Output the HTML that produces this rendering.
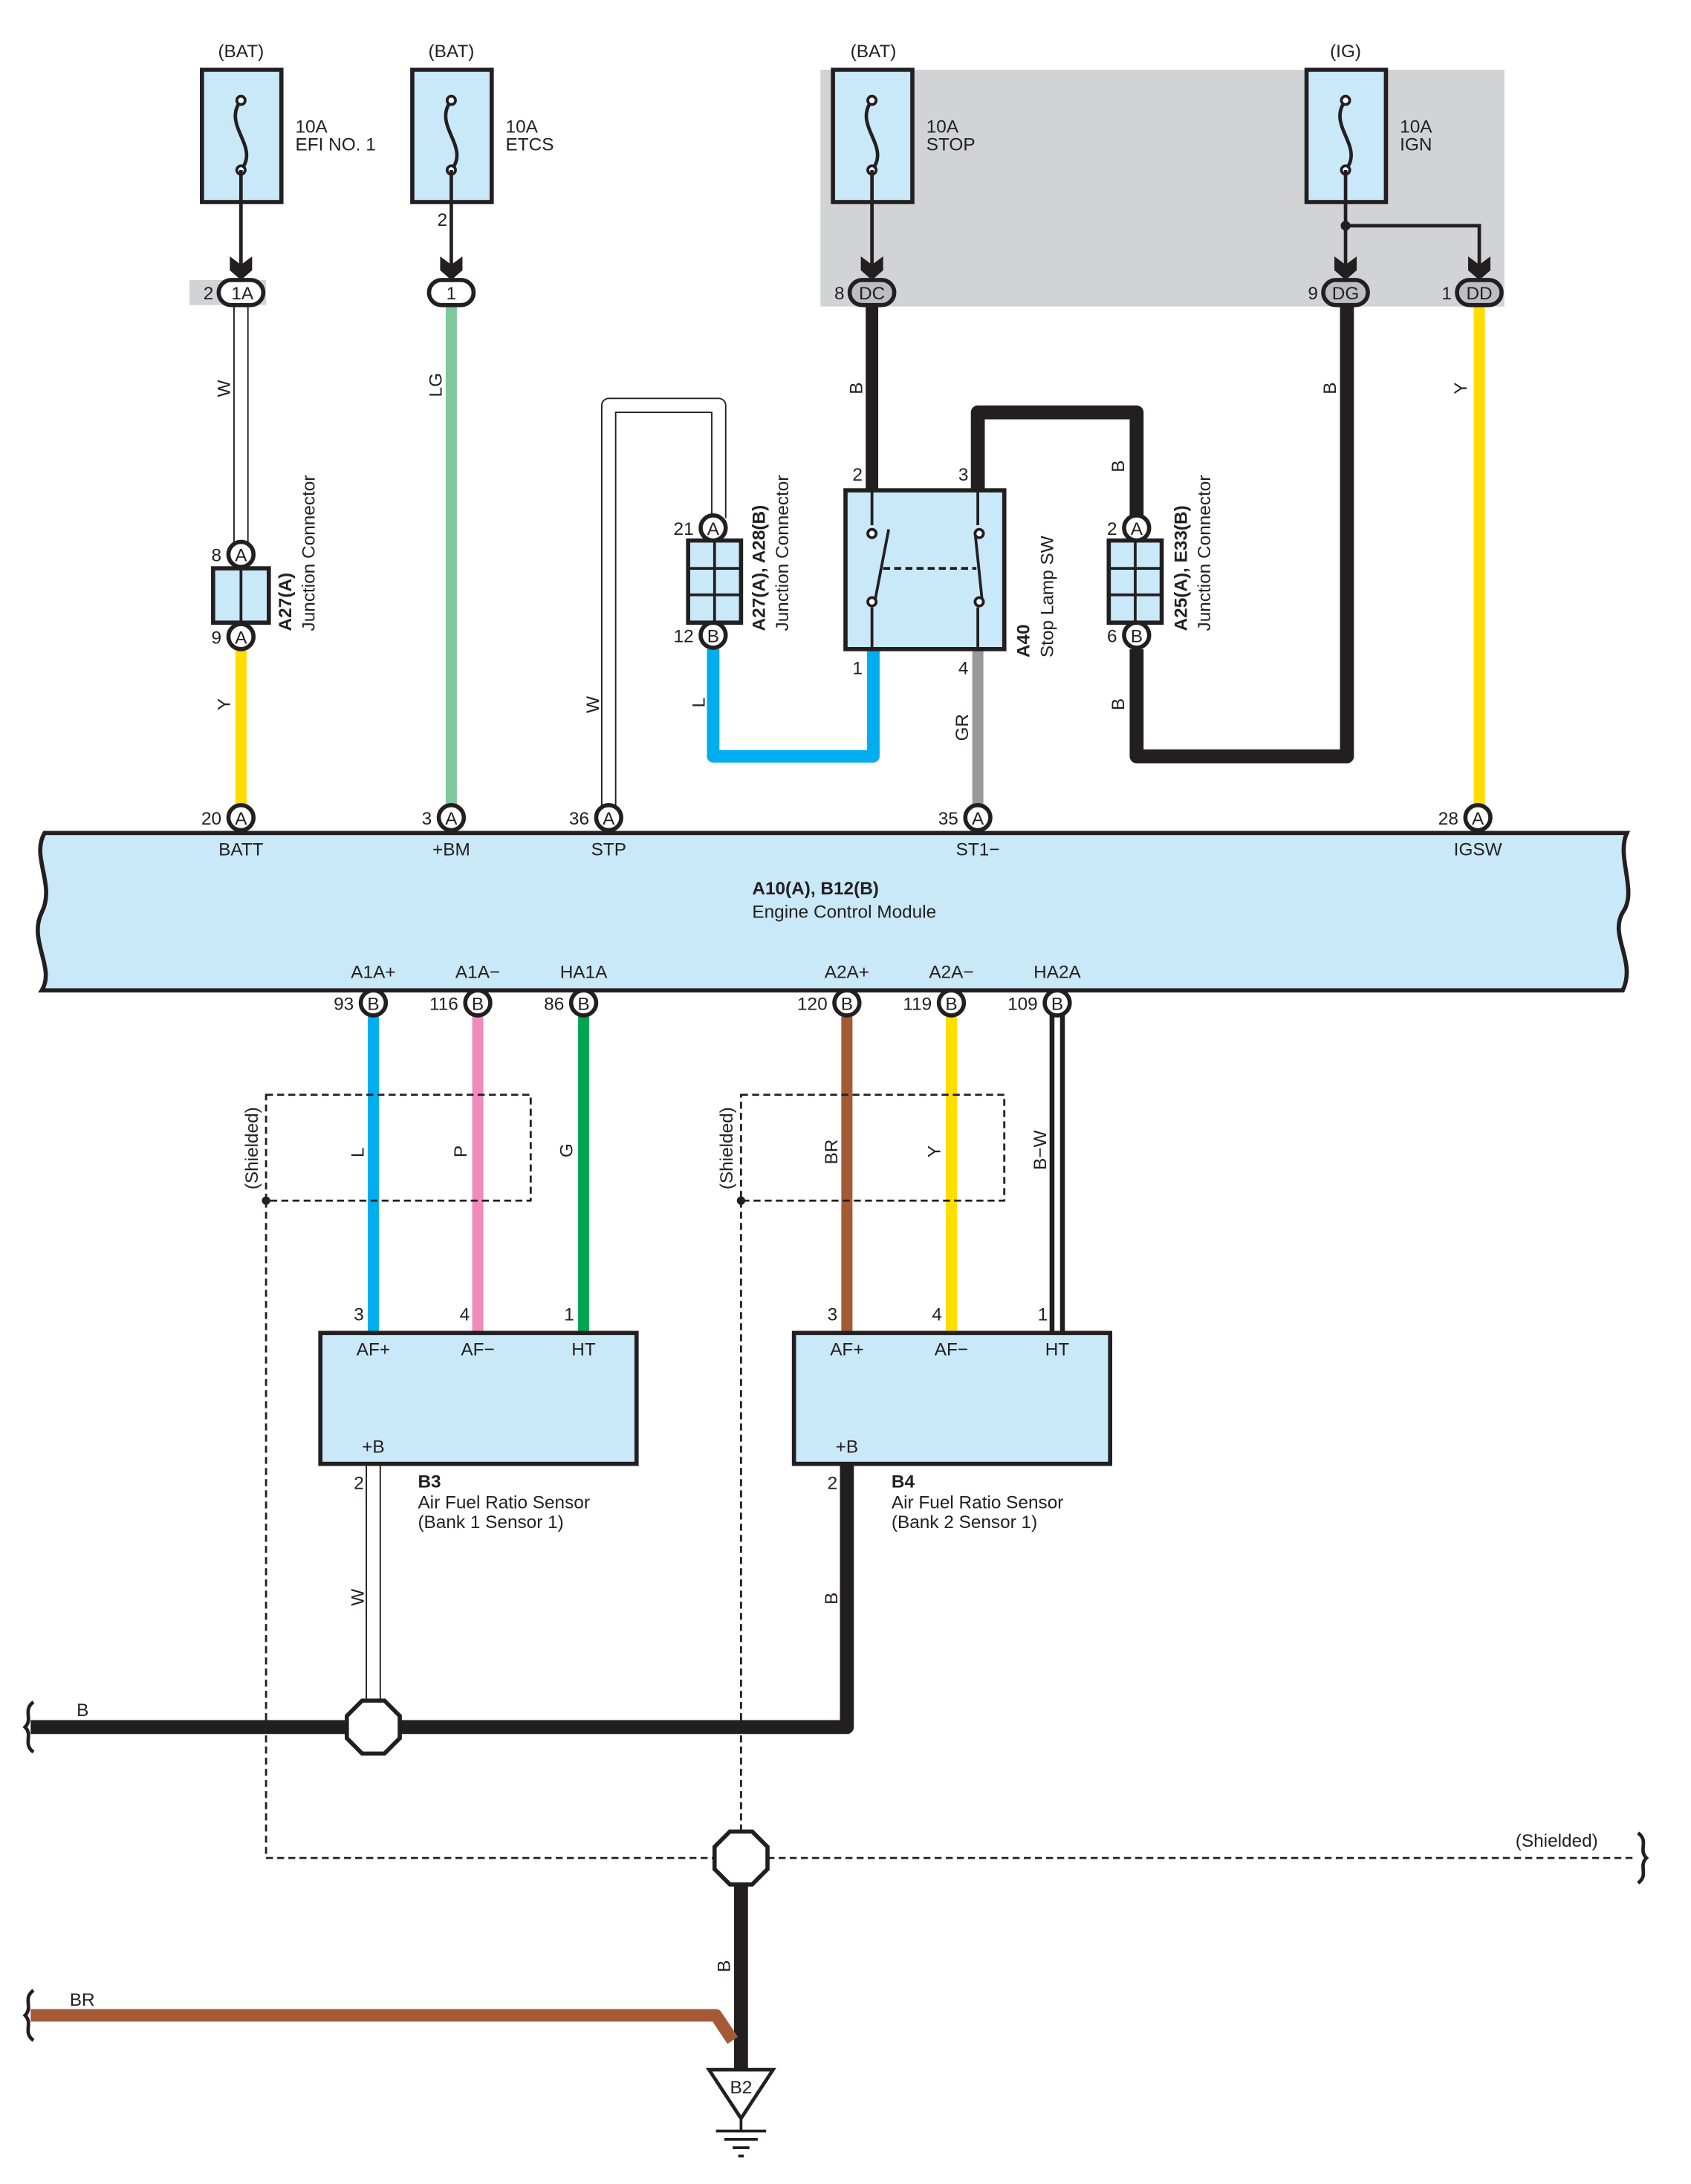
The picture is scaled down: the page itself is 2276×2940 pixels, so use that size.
<!DOCTYPE html>
<html><head><meta charset="utf-8"><style>html,body{margin:0;padding:0;background:#fff}svg{display:block}text{font-family:"Liberation Sans",sans-serif;font-size:13px;fill:#231f20}.b{font-weight:bold}</style></head><body>
<svg width="2276" height="2940" viewBox="0 0 1214 1568" xmlns="http://www.w3.org/2000/svg">
<defs>
<g id="fuse"><rect x="-28" y="0" width="57" height="95" fill="#c9e8f8" stroke="#231f20" stroke-width="3"/><path d="M0 22 C-14 40,14 55,0 72" fill="none" stroke="#231f20" stroke-width="2.5"/><circle cx="0" cy="22" r="3" fill="#fff" stroke="#231f20" stroke-width="2"/><circle cx="0" cy="72" r="3" fill="#fff" stroke="#231f20" stroke-width="2"/></g>
<g id="arr"><path d="M-8 -12 L0 -6 L8 -12 L8 -2 L0 5 L-8 -2Z" fill="#231f20"/></g>
</defs>
<!-- gray areas -->
<rect x="589" y="50" width="491" height="170" fill="#d1d3d4"/>
<rect x="136" y="201" width="55" height="18" fill="#d1d3d4"/>
<!-- fuses -->
<g transform="translate(173,50)"><use href="#fuse"/></g>
<g transform="translate(324,50)"><use href="#fuse"/></g>
<g transform="translate(626,50)"><use href="#fuse"/></g>
<g transform="translate(966,50)"><use href="#fuse"/></g>
<text x="173" y="41" text-anchor="middle">(BAT)</text><text x="324" y="41" text-anchor="middle">(BAT)</text><text x="627" y="41" text-anchor="middle">(BAT)</text><text x="966" y="41" text-anchor="middle">(IG)</text>
<text x="212" y="95">10A</text><text x="212" y="108">EFI NO. 1</text>
<text x="363" y="95">10A</text><text x="363" y="108">ETCS</text>
<text x="665" y="95">10A</text><text x="665" y="108">STOP</text>
<text x="1005" y="95">10A</text><text x="1005" y="108">IGN</text>
<g stroke="#231f20" stroke-width="2.5" fill="none">
<path d="M173 122V196M324 122V196M626 122V196M966 122V196M966 162H1062V196"/>
</g>
<circle cx="966" cy="162" r="3.5" fill="#231f20"/>
<g transform="translate(173,196)"><use href="#arr"/></g><g transform="translate(324,196)"><use href="#arr"/></g><g transform="translate(626,196)"><use href="#arr"/></g><g transform="translate(966,196)"><use href="#arr"/></g><g transform="translate(1062,196)"><use href="#arr"/></g>
<text x="314" y="162">2</text>
<!-- wires -->
<g fill="none" stroke-linejoin="round">
<path d="M173 219V390" stroke="#231f20" stroke-width="11"/><path d="M173 219V390" stroke="#fff" stroke-width="9"/>
<path d="M173 466V580" stroke="#ffdd00" stroke-width="8"/>
<path d="M324 219V580" stroke="#7fc89c" stroke-width="8"/>
<path d="M437 580V291H516V372" stroke="#231f20" stroke-width="11"/><path d="M437 580V291H516V372" stroke="#fff" stroke-width="9"/>
<path d="M512 466V543H627V466" stroke="#00aeef" stroke-width="9"/>
<path d="M626 219V352" stroke="#231f20" stroke-width="9"/>
<path d="M702 352V296H816V370M816 466V543H967V219" stroke="#231f20" stroke-width="10"/>
<path d="M702 466V580" stroke="#98999b" stroke-width="8"/>
<path d="M1062 219V580" stroke="#ffdd00" stroke-width="8"/>
<path d="M268 729V957" stroke="#00aeef" stroke-width="8"/>
<path d="M343 729V957" stroke="#f08bbb" stroke-width="8"/>
<path d="M419 729V957" stroke="#00a651" stroke-width="8"/>
<path d="M608 729V957" stroke="#a55a36" stroke-width="8"/>
<path d="M683 729V957" stroke="#ffdd00" stroke-width="8"/>
<path d="M759 729V957" stroke="#231f20" stroke-width="11"/><path d="M759 729V957" stroke="#fff" stroke-width="4"/>
<path d="M268 1051V1222" stroke="#231f20" stroke-width="11"/><path d="M268 1051V1222" stroke="#fff" stroke-width="9"/>
<path d="M22 1240H608V1051" stroke="#231f20" stroke-width="10"/>
<path d="M532 1354V1488" stroke="#231f20" stroke-width="10"/>
<path d="M22 1447H514L526 1465" stroke="#a55a36" stroke-width="9"/>
<path d="M191 786H381V862H191ZM532 786H721V862H532Z" stroke="#231f20" stroke-width="1.5" stroke-dasharray="5 3"/>
<path d="M191 862V1334H1175M532 862V1314" stroke="#231f20" stroke-width="1.5" stroke-dasharray="5 3"/>
</g>
<circle cx="191" cy="862" r="3" fill="#231f20"/><circle cx="532" cy="862" r="3" fill="#231f20"/>
<!-- wavy ends -->
<g fill="none" stroke="#231f20" stroke-width="2.5"><path d="M24 1222c-8 6 0 12-6 18 6 6-2 12 6 18"/><path d="M24 1429c-8 6 0 12-6 18 6 6-2 12 6 18"/><path d="M1176 1316c8 6 0 12 6 18-6 6 2 12-6 18"/></g>
<!-- top connectors -->
<g stroke="#231f20" stroke-width="3" fill="#fff">
<rect x="157" y="201" width="32" height="18" rx="9"/><rect x="308" y="201" width="32" height="18" rx="9"/>
<rect x="610" y="201" width="32" height="18" rx="9" fill="#bcbec0"/><rect x="950" y="201" width="32" height="18" rx="9" fill="#bcbec0"/><rect x="1046" y="201" width="32" height="18" rx="9" fill="#bcbec0"/>
</g>
<g text-anchor="middle"><text x="174" y="215">1A</text><text x="324" y="215">1</text><text x="626" y="215">DC</text><text x="966" y="215">DG</text><text x="1062" y="215">DD</text></g>
<text x="146" y="215">2</text><text x="599" y="215">8</text><text x="939" y="215">9</text><text x="1035" y="215">1</text>
<!-- junctions -->
<rect x="153" y="408" width="40" height="39" fill="#c9e8f8" stroke="#231f20" stroke-width="3"/><path d="M173 408V447" stroke="#231f20" stroke-width="2"/>
<rect x="494" y="388" width="38" height="59" fill="#c9e8f8" stroke="#231f20" stroke-width="3"/><path d="M513 388V447M494 408H532M494 427H532" stroke="#231f20" stroke-width="2"/>
<rect x="796" y="388" width="38" height="59" fill="#c9e8f8" stroke="#231f20" stroke-width="3"/><path d="M815 388V447M796 408H834M796 427H834" stroke="#231f20" stroke-width="2"/>
<!-- switch -->
<rect x="607" y="352" width="114" height="114" fill="#c9e8f8" stroke="#231f20" stroke-width="3"/>
<g stroke="#231f20" stroke-width="2" fill="none"><path d="M626 352V377M626 436V466M702 352V377M702 436V466M628 432L638 380M700 382L705 430"/><path d="M634 408H701" stroke-dasharray="5 3"/></g>
<g fill="#fff" stroke="#231f20" stroke-width="2"><circle cx="626" cy="383" r="3"/><circle cx="626" cy="432" r="3"/><circle cx="703" cy="383" r="3"/><circle cx="703" cy="432" r="3"/></g>
<text x="612" y="345">2</text><text x="688" y="345">3</text><text x="612" y="484">1</text><text x="688" y="484">4</text>
<!-- ECM -->
<path d="M32 598H1168C1160 615,1176 640,1165 655C1155 672,1175 690,1165 711H30C40 695,20 675,30 655C40 635,22 615,32 598Z" fill="#c9e8f8" stroke="#231f20" stroke-width="3"/>
<g text-anchor="middle"><text x="173" y="614">BATT</text><text x="324" y="614">+BM</text><text x="437" y="614">STP</text><text x="702" y="614">ST1−</text><text x="1061" y="614">IGSW</text>
<text x="268" y="702">A1A+</text><text x="343" y="702">A1A−</text><text x="419" y="702">HA1A</text><text x="608" y="702">A2A+</text><text x="683" y="702">A2A−</text><text x="759" y="702">HA2A</text></g>
<text x="540" y="642" class="b">A10(A), B12(B)</text><text x="540" y="659">Engine Control Module</text>
<!-- pin circles -->
<g stroke="#231f20" stroke-width="3" fill="#fff">
<circle cx="173" cy="398" r="9"/><circle cx="173" cy="457" r="9"/><circle cx="512" cy="379" r="9"/><circle cx="512" cy="456" r="9"/><circle cx="816" cy="379" r="9"/><circle cx="816" cy="456" r="9"/>
<circle cx="173" cy="587" r="9"/><circle cx="324" cy="587" r="9"/><circle cx="437" cy="587" r="9"/><circle cx="702" cy="587" r="9"/><circle cx="1061" cy="587" r="9"/>
<circle cx="268" cy="720" r="9"/><circle cx="343" cy="720" r="9"/><circle cx="419" cy="720" r="9"/><circle cx="608" cy="720" r="9"/><circle cx="683" cy="720" r="9"/><circle cx="759" cy="720" r="9"/>
</g>
<g text-anchor="middle" font-size="12">
<text x="173" y="403">A</text><text x="173" y="462">A</text><text x="512" y="384">A</text><text x="512" y="461">B</text><text x="816" y="384">A</text><text x="816" y="461">B</text>
<text x="173" y="592">A</text><text x="324" y="592">A</text><text x="437" y="592">A</text><text x="702" y="592">A</text><text x="1061" y="592">A</text>
<text x="268" y="725">B</text><text x="343" y="725">B</text><text x="419" y="725">B</text><text x="608" y="725">B</text><text x="683" y="725">B</text><text x="759" y="725">B</text>
</g>
<g text-anchor="end"><text x="159" y="403">8</text><text x="159" y="462">9</text><text x="498" y="384">21</text><text x="498" y="461">12</text><text x="802" y="384">2</text><text x="802" y="461">6</text>
<text x="159" y="592">20</text><text x="310" y="592">3</text><text x="423" y="592">36</text><text x="688" y="592">35</text><text x="1047" y="592">28</text>
<text x="254" y="725">93</text><text x="329" y="725">116</text><text x="405" y="725">86</text><text x="594" y="725">120</text><text x="669" y="725">119</text><text x="745" y="725">109</text></g>
<!-- sensors -->
<rect x="230" y="957" width="227" height="94" fill="#c9e8f8" stroke="#231f20" stroke-width="3"/>
<rect x="570" y="957" width="227" height="94" fill="#c9e8f8" stroke="#231f20" stroke-width="3"/>
<g text-anchor="middle"><text x="268" y="973">AF+</text><text x="343" y="973">AF−</text><text x="419" y="973">HT</text><text x="268" y="1043">+B</text>
<text x="608" y="973">AF+</text><text x="683" y="973">AF−</text><text x="759" y="973">HT</text><text x="608" y="1043">+B</text></g>
<text x="254" y="948">3</text><text x="330" y="948">4</text><text x="405" y="948">1</text><text x="594" y="948">3</text><text x="669" y="948">4</text><text x="745" y="948">1</text>
<text x="254" y="1069">2</text><text x="594" y="1069">2</text>
<text x="300" y="1068" class="b">B3</text><text x="300" y="1083">Air Fuel Ratio Sensor</text><text x="300" y="1097">(Bank 1 Sensor 1)</text>
<text x="640" y="1068" class="b">B4</text><text x="640" y="1083">Air Fuel Ratio Sensor</text><text x="640" y="1097">(Bank 2 Sensor 1)</text>
<!-- splices -->
<path d="M260 1221H276L287 1232V1248L276 1259H260L249 1248V1232Z" fill="#fff" stroke="#231f20" stroke-width="3"/>
<path d="M524 1315H540L551 1326V1342L540 1353H524L513 1342V1326Z" fill="#fff" stroke="#231f20" stroke-width="3"/>
<!-- ground -->
<path d="M509 1486H555L532 1521Z" fill="#fff" stroke="#231f20" stroke-width="2.5"/>
<text x="532" y="1503" text-anchor="middle" font-size="12">B2</text>
<path d="M532 1521V1530M514 1530H550M520 1536H544M526 1542H538M530 1548H534" stroke="#231f20" stroke-width="2"/>
<text x="55" y="1232">B</text><text x="50" y="1440">BR</text><text x="1088" y="1326">(Shielded)</text>
<!-- rotated labels -->
<g font-size="13">
<text transform="translate(165,285) rotate(-90)">W</text><text transform="translate(317,285) rotate(-90)">LG</text>
<text transform="translate(165,510) rotate(-90)">Y</text><text transform="translate(430,512) rotate(-90)">W</text><text transform="translate(506,508) rotate(-90)">L</text>
<text transform="translate(619,283) rotate(-90)">B</text><text transform="translate(695,532) rotate(-90)">GR</text>
<text transform="translate(807,339) rotate(-90)">B</text><text transform="translate(807,510) rotate(-90)">B</text>
<text transform="translate(959,283) rotate(-90)">B</text><text transform="translate(1053,283) rotate(-90)">Y</text>
<text transform="translate(261,831) rotate(-90)">L</text><text transform="translate(335,831) rotate(-90)">P</text><text transform="translate(411,831) rotate(-90)">G</text>
<text transform="translate(601,836) rotate(-90)">BR</text><text transform="translate(675,831) rotate(-90)">Y</text><text transform="translate(751,840) rotate(-90)">B−W</text>
<text transform="translate(261,1153) rotate(-90)">W</text><text transform="translate(601,1152) rotate(-90)">B</text><text transform="translate(524,1416) rotate(-90)">B</text>
<text transform="translate(185,854) rotate(-90)">(Shielded)</text><text transform="translate(526,854) rotate(-90)">(Shielded)</text>
<text transform="translate(209,453) rotate(-90)" class="b">A27(A)</text><text transform="translate(226,453) rotate(-90)">Junction Connector</text>
<text transform="translate(549,453) rotate(-90)" class="b">A27(A), A28(B)</text><text transform="translate(566,453) rotate(-90)">Junction Connector</text>
<text transform="translate(739,472) rotate(-90)" class="b">A40</text><text transform="translate(756,472) rotate(-90)">Stop Lamp SW</text>
<text transform="translate(852,453) rotate(-90)" class="b">A25(A), E33(B)</text><text transform="translate(869,453) rotate(-90)">Junction Connector</text>
</g>
</svg>
</body></html>
